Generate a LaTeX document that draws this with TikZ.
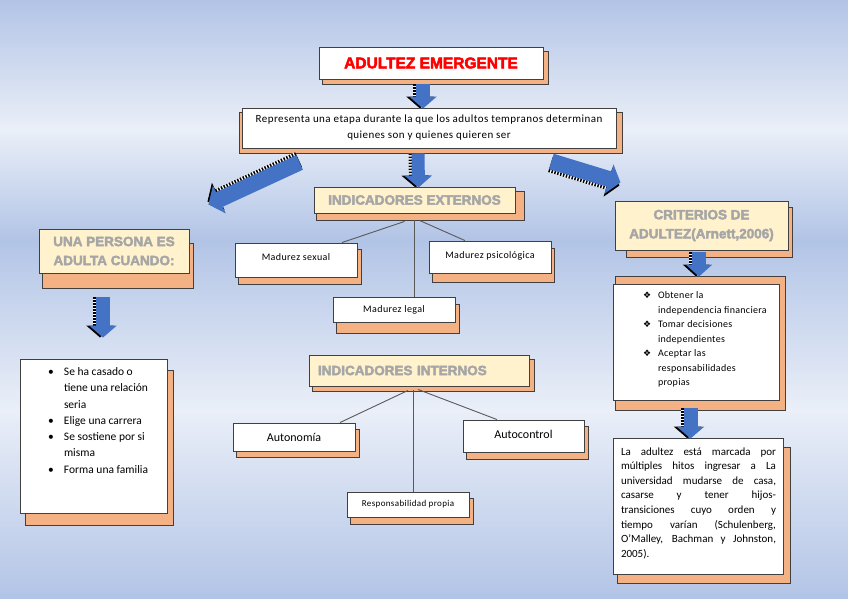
\documentclass[tikz,border=0pt]{standalone}
\usepackage{fontspec}
\setmainfont{Carlito}
\newfontfamily\heavyfont[BoldFeatures={FakeBold=3}]{Liberation Sans}
\newfontfamily\symfont{DejaVu Sans}
\usetikzlibrary{calc, arrows.meta}

\definecolor{bgdark}{HTML}{B2C4E6}
\definecolor{bglight}{HTML}{EAEFF8}
\definecolor{peach}{HTML}{F4B183}
\definecolor{cream}{HTML}{FFF2CC}
\definecolor{headgray}{HTML}{A6A6A6}
\definecolor{arrowblue}{HTML}{4472C4}
\definecolor{boxline}{HTML}{404040}

\pgfdeclareverticalshading{bgshade}{100bp}{color(0bp)=(bgdark); color(25bp)=(bgdark); color(40.8bp)=(bglight); color(55bp)=(bgdark); color(64.2bp)=(bglight); color(75bp)=(bgdark); color(100bp)=(bgdark)}

\pgfdeclarelayer{background}
\pgfsetlayers{background,main}

% block arrow: from, to, stripe shift, shaft width, head width
\newcommand{\blockarrow}[5]{%
  \draw[white, line width=#4pt, -{Triangle[width=#5pt, length=12pt]}, transform canvas={shift={#3}}] (#1) -- (#2);
  \draw[black, line width=#4pt, dash pattern=on 1.5pt off 1.5pt, -{Triangle[width=#5pt, length=12pt]}, transform canvas={shift={#3}}] (#1) -- (#2);
  \draw[arrowblue, line width=#4pt, -{Triangle[width=#5pt, length=12pt]}] (#1) -- (#2);
}

\begin{document}
\begin{tikzpicture}[x=1pt, y=-1pt,
  box/.style={draw=boxline, line width=0.9pt, fill=white, inner sep=0pt, align=center},
  headbox/.style={box, fill=cream, text=headgray, font=\heavyfont\bfseries\fontsize{13.5}{19}\selectfont},
  dims/.style 2 args={minimum width=#1pt, minimum height=#2pt},
  smalltext/.style={font=\fontsize{10}{12}\selectfont\addfontfeatures{LetterSpace=4}},
  shadowbox/.style={draw=boxline, line width=0.9pt, fill=peach},
  link/.style={draw=black!65, line width=0.9pt}]

\useasboundingbox (0,0) rectangle (848,599);
\begin{pgfonlayer}{background}
\shade[shading=bgshade] (0,0) rectangle (848,599);
\end{pgfonlayer}

% top
\node[box, dims={224}{32}, text=red, font=\heavyfont\bfseries\fontsize{15.5}{18}\selectfont] (title) at (431,63) {ADULTEZ EMERGENTE};
\node[box, dims={374}{40}, font=\fontsize{11}{16}\selectfont\addfontfeatures{LetterSpace=4}] (rep) at (429,128)
  {Representa una etapa durante la que los adultos tempranos determinan\\quienes son y quienes quieren ser};

% indicadores externos
\node[headbox, dims={201}{26}] (ext) at (414.5,200) {INDICADORES EXTERNOS};
\node[box, dims={122}{34}, smalltext] (sex) at (296,260) {\raisebox{5pt}{Madurez sexual}};
\node[box, dims={122}{32}, smalltext] (psi) at (490,257) {\raisebox{4pt}{Madurez psicológica}};
\node[box, dims={122}{25}, smalltext] (leg) at (394,309.5) {Madurez legal};

% indicadores internos
\node[headbox, dims={220}{31}, text width=202pt, align=left] (int) at (419,370.5) {INDICADORES INTERNOS};
\node[box, dims={122}{28}, font=\fontsize{12}{14}\selectfont] (aut) at (294,437) {Autonomía};
\node[box, dims={121}{32}, font=\fontsize{12}{14}\selectfont] (ctl) at (523.5,436) {\raisebox{3pt}{Autocontrol}};
\node[box, dims={122}{25}, font=\fontsize{9}{11}\selectfont\addfontfeatures{LetterSpace=4}] (res) at (408,504.5) {Responsabilidad propia};

% left column
\node[headbox, dims={150}{44}] (una) at (114,251) {UNA PERSONA ES\\ADULTA CUANDO:};
\node[box] (lst) at (93.5,436) {\parbox[c][154pt][t]{147pt}{\fontsize{11.5}{16.3}\selectfont\raggedright\vspace*{8.5pt}%
  \hspace*{28pt}\makebox[16pt][l]{•}Se ha casado o\\
  \hspace*{44pt}tiene una relación\\
  \hspace*{44pt}seria\\
  \hspace*{28pt}\makebox[16pt][l]{•}Elige una carrera\\
  \hspace*{28pt}\makebox[16pt][l]{•}Se sostiene por si\\
  \hspace*{44pt}misma\\
  \hspace*{28pt}\makebox[16pt][l]{•}Forma una familia}};

% right column
\node[headbox, dims={173}{49}] (cri) at (701.5,225.5) {CRITERIOS DE\\ADULTEZ(Arnett,2006)};
\node[box] (cls) at (696,342) {\parbox[c][116pt][t]{166pt}{\fontsize{10}{14.5}\selectfont\addfontfeatures{LetterSpace=3}\raggedright\vspace*{8pt}%
  \hspace*{30pt}\makebox[15pt][l]{\symfont\fontsize{9}{9}\selectfont ❖}Obtener la\\
  \hspace*{45pt}independencia financiera\\
  \hspace*{30pt}\makebox[15pt][l]{\symfont\fontsize{9}{9}\selectfont ❖}Tomar decisiones\\
  \hspace*{45pt}independientes\\
  \hspace*{30pt}\makebox[15pt][l]{\symfont\fontsize{9}{9}\selectfont ❖}Aceptar las\\
  \hspace*{45pt}responsabilidades\\
  \hspace*{45pt}propias}};
\node[box] (fin) at (698,506) {\parbox[c][136pt][t]{170pt}{\fontsize{11}{14.6}\selectfont\leftskip=8pt\rightskip=7pt\vspace*{9.5pt}%
  La adultez está marcada por\linebreak múltiples hitos ingresar a La\linebreak universidad mudarse de casa,\linebreak
  casarse y tener hijos-\linebreak transiciones cuyo orden y\linebreak tiempo varían (Schulenberg,\linebreak
  O’Malley, Bachman y Johnston,\linebreak 2005).}};

% shadows
\begin{pgfonlayer}{background}
\foreach \n/\a/\b/\c/\d in {title/4/5/5/5, rep/-2/5/6/5, ext/3/5/9/7, sex/4/7/4/7, psi/4/8/3/9,
    leg/4/8/4/11, int/4/5/5/5, aut/4/7/4/6, ctl/4/7/4/7, res/4/7/4/7, una/4/15/4/15,
    lst/6/12/6/12, cri/12/7/4/7, cls/3/-7/6/10, fin/5/10/7/9}
  \draw[shadowbox] ($(\n.north west)+(\a,\b)$) rectangle ($(\n.south east)+(\c,\d)$);
\end{pgfonlayer}

% links
\draw[link] ($(ext.south)+(-10,8)$) -- ($(sex.north)+(46,0)$);
\draw[link] ($(ext.south)+(0,7)$) -- (leg.north -| ext.south);
\draw[link] ($(ext.south)+(5,7)$) -- ($(psi.north)+(-25,0)$);
\draw[link] ($(int.south)+(-11,4)$) -- ($(aut.north)+(46,0)$);
\draw[link] ($(int.south)+(-6,4)$) -- ($(res.north)+(5,0)$);
\draw[link] ($(int.south)+(-1,3)$) -- ($(ctl.north)+(-26.5,0)$);

% block arrows
\coordinate (a1s) at ($(title.south)+(-8,5)$);
\coordinate (a1e) at ($(rep.north)+(-6,1)$);
\coordinate (a2s) at ($(rep.south)+(-11,5)$);
\coordinate (a2e) at ($(ext.north)+(4,1)$);
\coordinate (a3s) at ($(rep.south west)+(58,14)$);
\coordinate (a3e) at ($(una.north east)+(19,-24)$);
\coordinate (a4s) at ($(rep.south east)+(-65,13)$);
\coordinate (a4e) at ($(cri.north)+(-81,-18)$);
\coordinate (a5s) at ($(una.south)+(-11,24)$);
\coordinate (a5e) at ($(lst.north)+(9.5,-21)$);
\coordinate (a6s) at ($(cri.south)+(-2.5,2)$);
\coordinate (a6e) at ($(cls.north)+(3,-7)$);
\coordinate (a7s) at ($(cls.south)+(-5.5,8)$);
\coordinate (a7e) at ($(fin.north)+(-7.5,1)$);
\blockarrow{a1s}{a1e}{(-3,0)}{14}{27}
\blockarrow{a2s}{a2e}{(-3,0)}{13}{27}
\blockarrow{a3s}{a3e}{(-1,-3)}{16}{30}
\blockarrow{a4s}{a4e}{(-1,3)}{16}{30}
\blockarrow{a5s}{a5e}{(-3,0)}{14}{27}
\blockarrow{a6s}{a6e}{(-3,0)}{14}{26}
\blockarrow{a7s}{a7e}{(-3,0)}{14}{27}
\end{tikzpicture}
\end{document}
